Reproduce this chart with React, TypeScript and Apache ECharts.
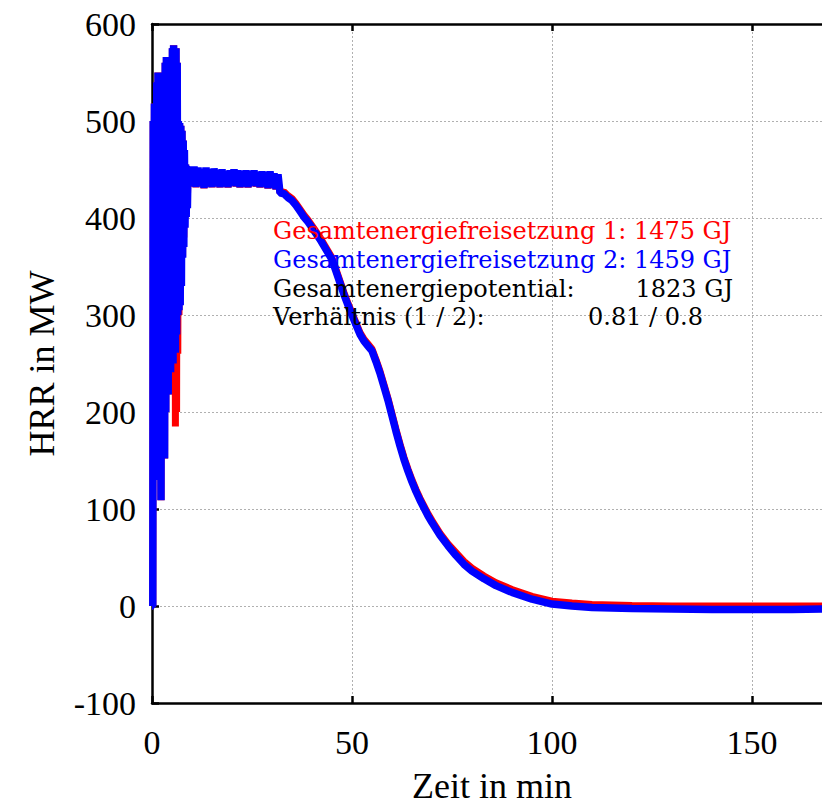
import React, { useEffect, useRef } from "react";
import * as echarts from "echarts";

const FONT = '"Liberation Serif", "Times New Roman", serif';
const ANN_FONT = '"DejaVu Serif", "Liberation Serif", serif';

const xTicks = [0, 50, 100, 150];
const yTicks = [-100, 0, 100, 200, 300, 400, 500, 600];

const timeMin = [
  0, 0.2, 0.3, 0.45, 0.6, 0.75, 0.9, 1.05, 1.2, 1.35, 1.5, 1.65, 1.8, 1.95, 2.1, 2.25, 2.4, 2.55, 2.7, 2.85, 3.0, 3.15, 3.3, 3.45, 3.6, 3.75, 3.9, 4.05, 4.2, 4.35, 4.5, 4.65, 4.8, 4.95, 5.1, 5.25, 5.4, 5.55, 5.7, 5.85, 6.0, 6.15, 6.3, 6.45, 6.6, 6.75, 6.9, 7.05, 7.2, 7.35, 7.5, 7.65, 7.8, 7.95, 8.1, 8.25, 8.4, 8.55, 8.7, 8.85, 9.0,
  9.5, 10, 10.5, 11, 11.5, 12, 12.5, 13, 13.5, 14, 14.5, 15, 15.5, 16, 16.5, 17, 17.5, 18, 18.5, 19, 19.5, 20, 20.5, 21, 21.5, 22, 22.5, 23, 23.5, 24, 24.5, 25, 25.5, 26, 26.5, 27, 27.5, 28, 28.5, 29, 29.5, 30, 30.5, 31, 31.5, 32,
  33, 34, 35, 36, 37, 38, 39, 40, 41, 42, 43, 44, 45, 46, 47, 48, 49, 50, 51, 52, 53, 54, 55, 56, 57, 58, 59, 60, 61, 62, 63, 64, 65, 66, 67, 68, 69, 70,
  72, 74, 76, 78, 80, 83, 86, 90, 95, 100, 105, 110, 120, 130, 140, 150, 160, 170,
];

// Gesamtenergiefreisetzung 1 (red)
const hrr1 = [
  0, 0, 500, 240, 518, 190, 505, 165, 540, 159, 550, 250, 548, 130, 530, 109, 515, 180, 518, 200, 520, 152, 560, 200, 566, 230, 562, 218, 560, 260, 555, 241, 540, 260, 575, 250, 578, 270, 560, 185, 575, 200, 560, 260, 500, 300, 498, 330, 495, 340, 490, 360, 480, 380, 470, 400, 455, 410, 452, 418, 448,
  444, 433, 446, 432, 445, 434, 443, 431, 445, 433, 443, 432, 444, 434, 442, 432, 443, 433, 441, 432, 442, 434, 443, 433, 442, 432, 441, 433, 442, 432, 441, 434, 442, 433, 440, 432, 441, 433, 440, 431, 441, 432, 439, 430, 438, 426,
  427, 423, 420, 415, 409, 403, 398, 392, 386, 380, 373, 366, 359, 347, 335, 323, 312, 302, 292, 282, 275, 270, 265, 254, 242, 228, 214, 198, 182, 167, 153, 141, 130, 120, 111, 103, 95, 88,
  75, 64, 55, 46, 39, 31, 24, 17, 10, 5, 3, 1.5, 0.5, 0, 0, 0, 0, 0,
];

// Gesamtenergiefreisetzung 2 (blue)
const hrr2 = [
  0, 0, 500, 240, 518, 190, 505, 165, 540, 159, 550, 250, 548, 130, 530, 109, 515, 180, 518, 200, 520, 152, 560, 200, 566, 230, 562, 218, 560, 260, 555, 241, 540, 260, 575, 250, 578, 270, 560, 261, 575, 280, 560, 300, 500, 305, 498, 310, 495, 330, 490, 359, 480, 370, 470, 390, 455, 401, 452, 410, 450,
  451, 433, 453, 432, 452, 434, 450, 431, 452, 433, 450, 432, 451, 434, 449, 432, 450, 433, 448, 432, 449, 434, 450, 433, 449, 432, 448, 433, 449, 432, 448, 434, 449, 433, 447, 432, 448, 433, 447, 431, 448, 432, 446, 430, 445, 426,
  425, 421, 418, 413, 407, 401, 396, 390, 384, 378, 371, 364, 357, 345, 333, 321, 310, 300, 290, 280, 273, 268, 263, 252, 240, 226, 212, 196, 180, 165, 151, 139, 128, 118, 109, 101, 93, 86,
  73, 62, 52, 43, 36, 28, 21, 14, 7, 2, 0, -1.5, -2.5, -3, -3.5, -3.5, -3.5, -3,
];

const annotations = [
  { text: "Gesamtenergiefreisetzung 1: 1475 GJ", color: "#ff0000" },
  { text: "Gesamtenergiefreisetzung 2: 1459 GJ", color: "#0000ff" },
  { text: "Gesamtenergiepotential:", color: "#000000", value: "1823 GJ" },
  { text: "Verhältnis (1 / 2):", color: "#000000", value: "0.81 / 0.8" },
];

function pairs(t: number[], v: number[]) {
  return t.map((x, i) => [x, v[i]]);
}

export default function App() {
  const ref = useRef<HTMLDivElement>(null);

  useEffect(() => {
    if (!ref.current) return;
    const chart = echarts.init(ref.current, undefined, { renderer: "svg" });
    const axisLine = { show: true, onZero: false, lineStyle: { color: "#000", width: 2.5 } };
    const axisTick = { show: true, inside: true, length: 7, lineStyle: { color: "#000", width: 2.5 } };
    const splitLine = { show: true, lineStyle: { color: "#b0b0b0", width: 1, type: [2, 2] } };
    const labelStyle = { color: "#000", fontSize: 34, fontFamily: FONT };
    const nameStyle = { color: "#000", fontSize: 36, lineHeight: 36, fontFamily: FONT };
    const annFont = `24px ${ANN_FONT}`;

    const lineYs = [231, 260, 289, 317];
    const graphic: any[] = [];
    const txt = (text: string, x: number, y: number, fill: string, align: string) => ({
      type: "text",
      x,
      y,
      z: 100,
      style: {
        text,
        fill,
        font: annFont,
        align,
        verticalAlign: "middle",
        textAlign: align,
        textVerticalAlign: "middle",
      },
    });
    annotations.forEach((a, i) => graphic.push(txt(a.text, 273, lineYs[i], a.color, "left")));
    graphic.push(txt(annotations[2].value as string, 733, lineYs[2], "#000", "right"));
    graphic.push(txt(annotations[3].value as string, 588, lineYs[3], "#000", "left"));

    chart.setOption({
      animation: false,
      backgroundColor: "#ffffff",
      grid: {
        left: 152,
        top: 24,
        right: 18,
        bottom: 102,
        containLabel: false,
        outerBoundsMode: "none",
      },
      xAxis: [
        {
          type: "value",
          min: xTicks[0],
          max: 170,
          interval: 50,
          position: "bottom",
          axisLine,
          axisTick,
          splitLine,
          axisLabel: { ...labelStyle, margin: 22, showMaxLabel: false },
          name: "Zeit in min",
          nameLocation: "middle",
          nameGap: 65,
          nameTextStyle: nameStyle,
        },
        {
          type: "value",
          min: xTicks[0],
          max: 170,
          interval: 50,
          position: "top",
          axisLine,
          axisTick,
          splitLine: { show: false },
          axisLabel: { show: false },
        },
      ],
      yAxis: [
        {
          type: "value",
          min: yTicks[0],
          max: yTicks[yTicks.length - 1],
          interval: 100,
          position: "left",
          axisLine,
          axisTick,
          splitLine,
          axisLabel: { ...labelStyle, margin: 16 },
          name: "HRR in MW",
          nameLocation: "middle",
          nameRotate: 90,
          nameGap: 92,
          nameTextStyle: nameStyle,
        },
      ],
      series: [
        {
          name: "Gesamtenergiefreisetzung 1",
          type: "line",
          data: pairs(timeMin, hrr1),
          showSymbol: false,
          symbol: "none",
          lineStyle: { color: "#ff0000", width: 7, join: "bevel" },
          itemStyle: { color: "#ff0000" },
          z: 2,
        },
        {
          name: "Gesamtenergiefreisetzung 2",
          type: "line",
          data: pairs(timeMin, hrr2),
          showSymbol: false,
          symbol: "none",
          lineStyle: { color: "#0000ff", width: 7.5, join: "bevel" },
          itemStyle: { color: "#0000ff" },
          z: 3,
        },
      ],
      graphic,
    });
    return () => chart.dispose();
  }, []);

  return (
    <div style={{ position: "fixed", left: 0, top: 0, width: 822, height: 805, overflow: "hidden", background: "#fff" }}>
      <div ref={ref} style={{ width: 850, height: 805 }} />
    </div>
  );
}
